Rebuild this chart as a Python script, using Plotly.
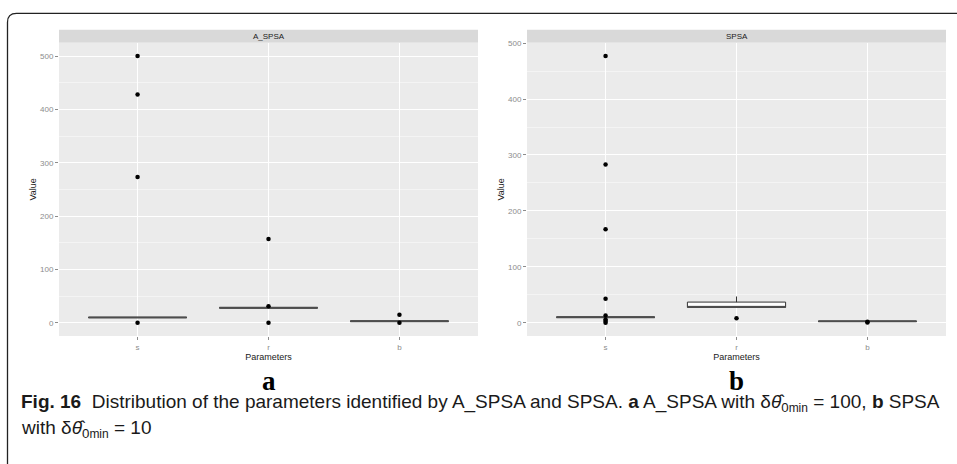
import plotly.graph_objects as go

W, H = 957, 464

categories = ["s", "r", "b"]
y_ticks = [0, 100, 200, 300, 400, 500]

# Panel a: A_SPSA
a_q1 = [10, 28, 3]
a_median = [10, 28, 3]
a_q3 = [10, 28, 3]
a_lowf = [10, 28, 3]
a_upf = [10, 28, 3]
a_out_s = [500, 428, 273, 0]
a_out_r = [157, 31, 0]
a_out_b = [15, 0]

# Panel b: SPSA
b_q1 = [10, 27.5, 2.5]
b_median = [10, 28, 2.5]
b_q3 = [10, 37, 2.5]
b_lowf = [10, 27.5, 2.5]
b_upf = [10, 47, 2.5]
b_out_s = [477, 283, 167, 43, 13, 6, 3, 0]
b_out_r = [8]
b_out_b = [2, 0.5]

BOXW = 0.75

fig = go.Figure()

def px_x(v):
    return v / W

def px_y(v):
    return 1 - v / H

panels = [
    dict(name="A_SPSA", x0=59, x1=478, q1=a_q1, med=a_median, q3=a_q3, lf=a_lowf, uf=a_upf,
         outs=[a_out_s, a_out_r, a_out_b], yr=[-25, 525], lab="a"),
    dict(name="SPSA", x0=527, x1=946, q1=b_q1, med=b_median, q3=b_q3, lf=b_lowf, uf=b_upf,
         outs=[b_out_s, b_out_r, b_out_b], yr=[-23.85, 500.85], lab="b"),
]

ptop, pbot = 39, 335
strip_top = 26

layout_axes = {}
for k, p in enumerate(panels):
    xa = "x" if k == 0 else "x2"
    ya = "y" if k == 0 else "y2"
    idx = list(range(len(categories)))
    for i in idx:
        fig.add_trace(go.Box(
            x=[i], q1=[p["q1"][i]], median=[p["med"][i]], q3=[p["q3"][i]],
            lowerfence=[p["lf"][i]], upperfence=[p["uf"][i]],
            width=BOXW, boxpoints=False, whiskerwidth=0,
            fillcolor="white", line=dict(color="#333333", width=1),
            xaxis=xa, yaxis=ya, showlegend=False, hoverinfo="skip"))
        # thicker median line
        fig.add_trace(go.Scatter(
            x=[i - BOXW / 2, i + BOXW / 2], y=[p["med"][i], p["med"][i]],
            mode="lines", line=dict(color="#4d4d4d", width=2),
            xaxis=xa, yaxis=ya, showlegend=False, hoverinfo="skip"))
        fig.add_trace(go.Scatter(
            x=[i] * len(p["outs"][i]), y=p["outs"][i], mode="markers",
            marker=dict(color="black", size=4.5),
            xaxis=xa, yaxis=ya, showlegend=False, hoverinfo="skip"))

    dom_x = [px_x(p["x0"]), px_x(p["x1"])]
    dom_y = [px_y(pbot), px_y(ptop)]
    suffix = "" if k == 0 else "2"
    layout_axes["xaxis" + suffix] = dict(
        domain=dom_x, range=[-0.6, 2.6], tickvals=idx, ticktext=categories,
        showgrid=True, gridcolor="white", gridwidth=1, zeroline=False,
        ticks="outside", ticklen=3, tickcolor="#8c8c8c",
        tickfont=dict(family="Liberation Sans, Arial", size=8, color="#8c8c8c"),
        title=dict(text="Parameters", font=dict(family="Liberation Sans, Arial", size=9, color="#1a1a1a"),
                   standoff=0),
        anchor=ya, fixedrange=True)
    layout_axes["yaxis" + suffix] = dict(
        domain=dom_y, range=p["yr"], tickvals=y_ticks,
        showgrid=True, gridcolor="white", gridwidth=1, zeroline=False,
        minor=dict(tickvals=[50, 150, 250, 350, 450], showgrid=True, gridcolor="#f4f4f4", gridwidth=0.6,
                   ticks=""),
        ticks="outside", ticklen=3, tickcolor="#8c8c8c",
        tickfont=dict(family="Liberation Sans, Arial", size=8, color="#8c8c8c"),
        title=dict(text="Value", font=dict(family="Liberation Sans, Arial", size=9, color="#1a1a1a"),
                   standoff=1),
        anchor=xa, fixedrange=True)

    # strip
    fig.add_shape(type="rect", xref="paper", yref="paper",
                  x0=px_x(p["x0"]), x1=px_x(p["x1"]), y0=px_y(ptop), y1=px_y(strip_top),
                  fillcolor="#d9d9d9", line=dict(width=0), layer="below")
    fig.add_annotation(xref="paper", yref="paper", x=(px_x(p["x0"]) + px_x(p["x1"])) / 2,
                       y=px_y((ptop + strip_top) / 2), text=p["name"], showarrow=False,
                       font=dict(family="Liberation Sans, Arial", size=8, color="#1a1a1a"),
                       xanchor="center", yanchor="middle")
    # panel background
    fig.add_shape(type="rect", xref="paper", yref="paper",
                  x0=px_x(p["x0"]), x1=px_x(p["x1"]), y0=px_y(pbot), y1=px_y(ptop),
                  fillcolor="#ebebeb", line=dict(width=0), layer="below")
    # sub-label
    fig.add_annotation(xref="paper", yref="paper", x=(px_x(p["x0"]) + px_x(p["x1"])) / 2,
                       y=px_y(380), text="<b>" + p["lab"] + "</b>", showarrow=False,
                       font=dict(family="Liberation Serif, Times New Roman", size=27, color="black"),
                       xanchor="center", yanchor="middle")

# outer frame with rounded top-left corner
r = 9
x0f, y0f = 7.5, 9.5
path = (f"M {px_x(x0f)},{px_y(H + 5)} L {px_x(x0f)},{px_y(y0f + r)} "
        f"Q {px_x(x0f)},{px_y(y0f)} {px_x(x0f + r)},{px_y(y0f)} L {px_x(W + 5)},{px_y(y0f)}")
fig.add_shape(type="path", xref="paper", yref="paper", path=path,
              line=dict(color="#222222", width=1.3))

cap_font = dict(family="Liberation Sans, Arial", size=19, color="#1a1a1a")
theta = "δ<i>θ̂</i><sub>0<span style='font-size:12px'>min</span></sub>"
line1 = ("<b>Fig. 16</b>  Distribution of the parameters identified by A_SPSA and SPSA. "
         f"<b>a</b> A_SPSA with {theta} = 100, <b>b</b> SPSA")
line2 = f"with {theta} = 10"
fig.add_annotation(xref="paper", yref="paper", x=px_x(19), y=px_y(402), text=line1,
                   showarrow=False, font=cap_font, xanchor="left", yanchor="middle")
fig.add_annotation(xref="paper", yref="paper", x=px_x(19), y=px_y(429), text=line2,
                   showarrow=False, font=cap_font, xanchor="left", yanchor="middle")

fig.update_layout(width=W, height=H, margin=dict(l=0, r=0, t=0, b=0),
                  paper_bgcolor="white", plot_bgcolor="rgba(0,0,0,0)",
                  showlegend=False, **layout_axes)

fig.write_html("out.html", config={"displayModeBar": False},
               post_script="document.body.style.margin='0';document.body.style.padding='0';")
